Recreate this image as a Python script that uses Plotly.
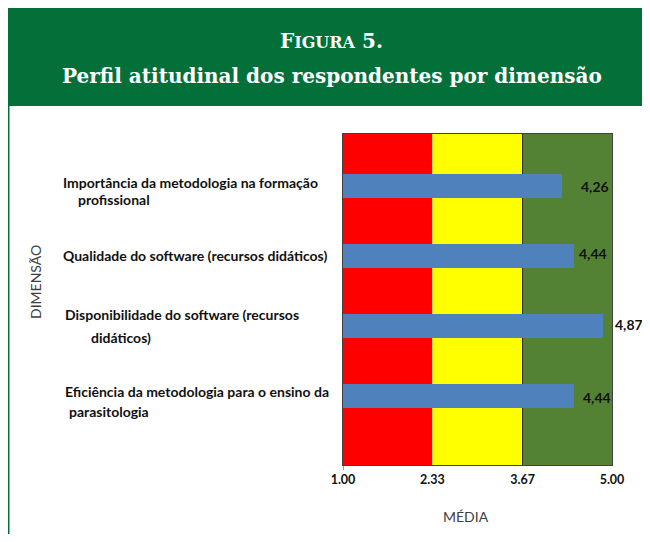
import plotly.graph_objects as go

# ---- data ----
label_lines = [
    ["Importância da metodologia na formação", "profissional"],
    ["Qualidade do software (recursos didáticos)"],
    ["Disponibilidade do software (recursos", "didáticos)"],
    ["Eficiência da metodologia para o ensino da", "parasitologia"],
]
categories = [" ".join(l) for l in label_lines]
values = [4.26, 4.44, 4.87, 4.44]
value_text = ["4,26", "4,44", "4,87", "4,44"]
thresholds = [1.00, 2.33, 3.67, 5.00]
tick_text = ["1.00", "2.33", "3.67", "5.00"]
band_colors = ["#FF0000", "#FFFF00", "#548235"]

# ---- geometry (page has an 8px body margin) ----
OFF = 8
W, H = 650 - OFF, 542 - 2 * OFF
L, R, T = 343 - OFF, 650 - 612, 134 - OFF
B = H - (465 - OFF)
PW, PH = W - L - R, H - T - B


def px(x):  # page x -> paper
    return (x - OFF - L) / PW


def py(y):  # page y -> paper
    return (H - B - (y - OFF)) / PH


LABEL_FONT = "Lato, 'Open Sans', sans-serif"
SERIF = "'DejaVu Serif', 'Liberation Serif', serif"

fig = go.Figure()
fig.add_trace(go.Bar(
    x=values, y=categories, orientation="h",
    marker=dict(color="#4F81BD", line=dict(width=0)),
    width=0.343, hoverinfo="x+y",
))

shapes = []
for i in range(3):
    shapes.append(dict(type="rect", xref="x", yref="paper",
                       x0=thresholds[i], x1=thresholds[i + 1], y0=0, y1=1,
                       fillcolor=band_colors[i], line=dict(width=0), layer="below"))
shapes.append(dict(type="line", xref="x", yref="paper", x0=thresholds[2], x1=thresholds[2],
                   y0=0, y1=1, line=dict(color="#2a2a2a", width=1), layer="below"))
shapes.append(dict(type="line", xref="x", yref="paper", x0=thresholds[0], x1=thresholds[0],
                   y0=0, y1=py(470), line=dict(color="#404040", width=1)))
# header band
shapes.append(dict(type="rect", xref="paper", yref="paper",
                   x0=px(6), x1=px(655), y0=py(106), y1=py(6),
                   fillcolor="#03703A", line=dict(width=0)))
# left green rule
shapes.append(dict(type="line", xref="paper", yref="paper",
                   x0=px(8.5), x1=px(8.5), y0=py(106), y1=py(560),
                   line=dict(color="#03703A", width=2)))

ann = []
ann.append(dict(xref="paper", yref="paper", x=px(331), y=py(41), xanchor="center", yanchor="middle",
                text="F<span style='font-size:16px'>IGURA</span> 5.", showarrow=False,
                font=dict(family=SERIF, size=20, color="white", weight="bold")))
ann.append(dict(xref="paper", yref="paper", x=px(332), y=py(76), xanchor="center", yanchor="middle",
                text="Perfil atitudinal dos respondentes por dimensão", showarrow=False,
                font=dict(family=SERIF, size=20, color="white", weight="bold")))

line_x = [[61, 76], [61], [63, 89], [63, 67]]
line_dy = [[4, -13], [1], [11, -12], [4, -16]]
for cat, lines, xs, dys in zip(categories, label_lines, line_x, line_dy):
    for t, x0, dy in zip(lines, xs, dys):
        ann.append(dict(xref="paper", yref="y", x=px(x0), y=cat, xanchor="left", yanchor="middle",
                        yshift=dy, text=t, showarrow=False,
                        font=dict(family=LABEL_FONT, size=14, color="#111111", weight="bold")))

val_dx = [17, 3, 10, 7]
val_dy = [0, 3, 1, -2]
for cat, v, t, dx, dy in zip(categories, values, value_text, val_dx, val_dy):
    ann.append(dict(xref="x", yref="y", x=v, y=cat, xanchor="left", yanchor="middle",
                    xshift=dx, yshift=dy, text=t, showarrow=False,
                    font=dict(family=LABEL_FONT, size=14, color="#111111", weight="bold")))

ann.append(dict(xref="paper", yref="paper", x=px(466), y=py(516), xanchor="center", yanchor="middle",
                text="MÉDIA", showarrow=False,
                font=dict(family=LABEL_FONT, size=14, color="#404040")))
ann.append(dict(xref="paper", yref="paper", x=px(35), y=py(282), xanchor="center", yanchor="middle",
                text="DIMENSÃO", textangle=-90, showarrow=False,
                font=dict(family=LABEL_FONT, size=14, color="#404040")))

fig.update_layout(
    width=W, height=H, autosize=False,
    margin=dict(l=L, r=R, t=T, b=B, pad=0),
    paper_bgcolor="white", plot_bgcolor="white",
    showlegend=False, shapes=shapes, annotations=ann,
    bargap=0,
)
fig.update_xaxes(range=[thresholds[0], thresholds[-1]], tickvals=thresholds, ticktext=tick_text,
                 showgrid=False, zeroline=False, showline=True, mirror=True,
                 linecolor="#404040", linewidth=1, ticks="", ticklabelstandoff=3,
                 tickfont=dict(family=LABEL_FONT, size=12.5, color="#111111", weight="bold"))
fig.update_yaxes(type="category", categoryorder="array", categoryarray=categories,
                 range=[3.986, -0.743], showticklabels=False, showgrid=False, zeroline=False,
                 showline=True, mirror=True, linecolor="#404040", linewidth=1, ticks="")

fig.write_html("out.html")
